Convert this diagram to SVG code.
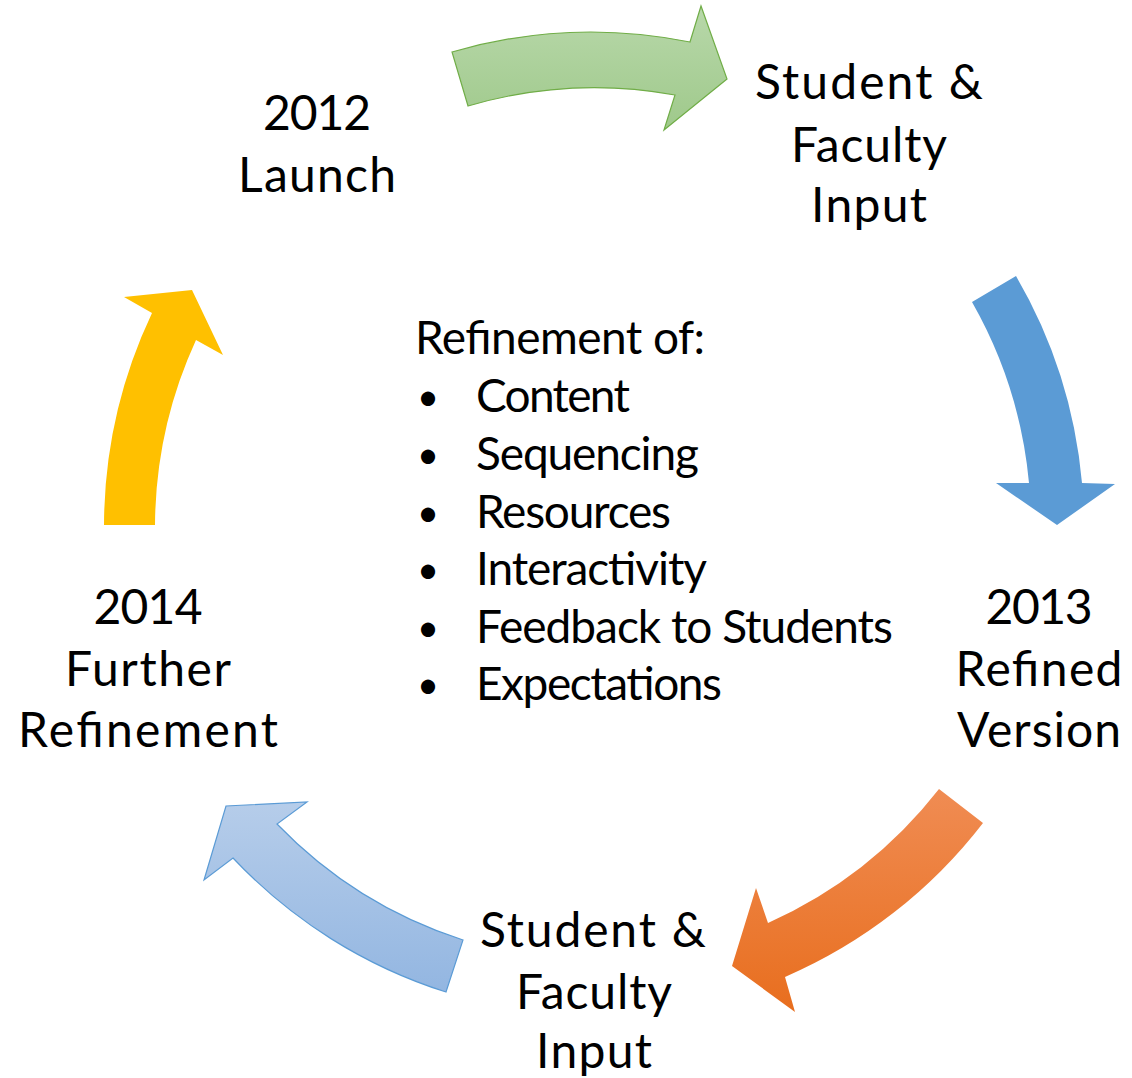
<svg xmlns="http://www.w3.org/2000/svg" width="1132" height="1078" viewBox="0 0 1132 1078">
<defs>
<linearGradient id="gGreen" x1="0" y1="0" x2="0" y2="1">
<stop offset="0" stop-color="#b8d8aa"/><stop offset="1" stop-color="#9fc98b"/>
</linearGradient>
<linearGradient id="gOrange" x1="0" y1="0" x2="0" y2="1">
<stop offset="0" stop-color="#f08c53"/><stop offset="1" stop-color="#e86e1e"/>
</linearGradient>
<linearGradient id="gLight" x1="0" y1="0" x2="0" y2="1">
<stop offset="0" stop-color="#b6cdea"/><stop offset="1" stop-color="#93b6e1"/>
</linearGradient>
</defs>
<style>
text{font-family:Lato,"Open Sans","Liberation Sans",sans-serif;fill:#000;}
.lbl{font-size:48px;text-anchor:middle;}
.lst{font-size:46px;}
.bul{font-size:38px;}
</style>
<rect width="1132" height="1078" fill="#fff"/>
<g id="connectors">
<path id="arrow-green" d="M452,52 A500,500 0 0 1 690,42 L701,6 L727,79 L664,130 L675,95 A450,450 0 0 0 468,106 Z" fill="url(#gGreen)" stroke="#70ad47" stroke-width="1.2"/>
<path id="arrow-blue" d="M1016,276 A500,500 0 0 1 1082,483 L1115,484 L1057,525 L996,483 L1029,483 A450,450 0 0 0 972,302 Z" fill="#5b9bd5"/>
<path id="arrow-orange" d="M983,823 A500,500 0 0 1 785,977 L795,1012 L732,966 L756,888 L768,923 A450,450 0 0 0 939,789 Z" fill="url(#gOrange)"/>
<path id="arrow-lightblue" d="M446,992 A500,500 0 0 1 233,858 L204,880 L226,806 L307,802 L277,824 A450,450 0 0 0 463,940 Z" fill="url(#gLight)" stroke="#5b9bd5" stroke-width="1.2"/>
<path id="arrow-yellow" d="M104,525 A500,500 0 0 1 152,313 L124,297 L192,290 L223,355 L196,340 A450,450 0 0 0 155,525 Z" fill="#ffc000"/>
</g>
<g id="node-2012">
<text class="lbl" x="317" y="130" textLength="108">2012</text>
<text class="lbl" x="317" y="192" textLength="158">Launch</text>
</g>
<g id="node-input-top">
<text class="lbl" x="869" y="99" textLength="228">Student &amp;</text>
<text class="lbl" x="869" y="162" textLength="156">Faculty</text>
<text class="lbl" x="869" y="222" textLength="116">Input</text>
</g>
<g id="node-2013">
<text class="lbl" x="1039" y="624" textLength="107">2013</text>
<text class="lbl" x="1039" y="686" textLength="167">Refined</text>
<text class="lbl" x="1039" y="747" textLength="164">Version</text>
</g>
<g id="node-input-bottom">
<text class="lbl" x="593" y="947" textLength="226">Student &amp;</text>
<text class="lbl" x="594" y="1009" textLength="156">Faculty</text>
<text class="lbl" x="594" y="1068" textLength="116">Input</text>
</g>
<g id="node-2014">
<text class="lbl" x="148" y="624" textLength="109">2014</text>
<text class="lbl" x="148" y="686" textLength="166">Further</text>
<text class="lbl" x="148" y="747" textLength="260">Refinement</text>
</g>
<g id="node-center">
<text class="lst" x="415" y="354" textLength="290">Refinement of:</text>
<text class="bul" x="417" y="410">•</text>
<text class="lst" x="476" y="412" textLength="154">Content</text>
<text class="bul" x="417" y="468">•</text>
<text class="lst" x="476" y="470" textLength="223">Sequencing</text>
<text class="bul" x="417" y="526">•</text>
<text class="lst" x="476" y="528" textLength="195">Resources</text>
<text class="bul" x="417" y="583">•</text>
<text class="lst" x="476" y="585" textLength="231">Interactivity</text>
<text class="bul" x="417" y="641">•</text>
<text class="lst" x="476" y="643" textLength="417">Feedback to Students</text>
<text class="bul" x="417" y="698">•</text>
<text class="lst" x="476" y="700" textLength="246">Expectations</text>
</g>
</svg>
